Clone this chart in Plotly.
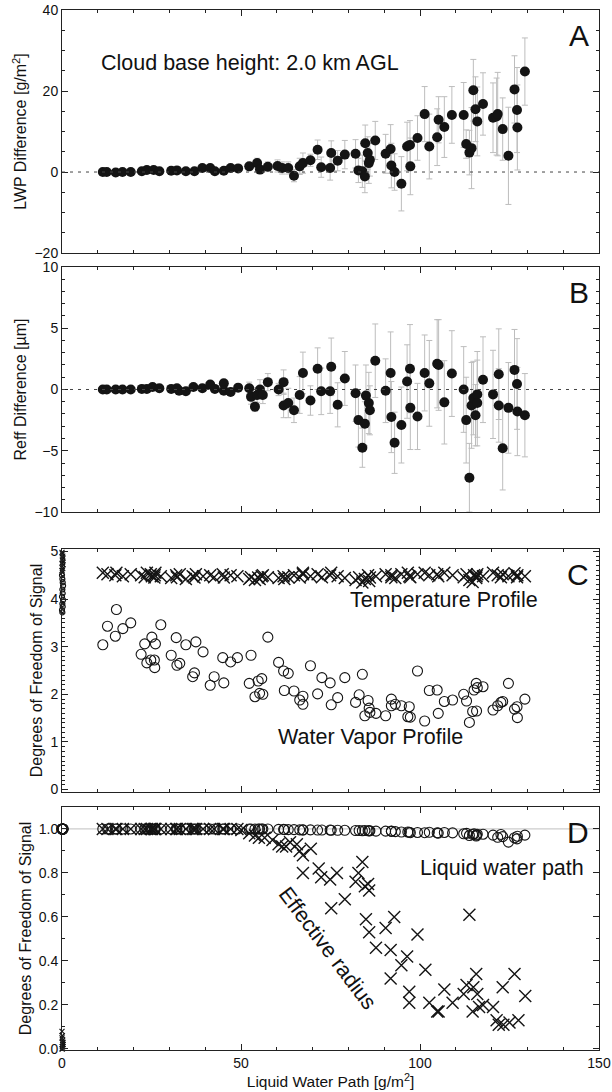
import plotly.graph_objects as go
from plotly.subplots import make_subplots

# ---- Panel A: LWP difference ----
a_lwp = [11.4, 12.5, 15.0, 16.9, 19.2, 22.3, 23.7, 25.6, 27.2, 30.5, 32.1, 34.6, 37.0, 39.2,
         41.4, 42.7, 45.2, 47.1, 49.2, 52.3, 54.5, 55.3, 57.5, 60.2, 61.5, 63.2, 64.8, 66.4,
         67.3, 69.4, 71.4, 72.4, 74.9, 75.2, 77.0, 79.0, 82.0, 82.8, 83.9, 84.6, 84.7, 85.4,
         85.7, 86.0, 87.5, 90.4, 91.8, 92.0, 92.9, 94.8, 96.4, 97.2, 97.3, 99.3, 101.3, 102.6,
         104.8, 105.2, 106.8, 108.9, 112.2, 112.9, 113.8, 114.4, 114.9, 115.5, 116.0, 117.6,
         120.4, 121.4, 121.7, 123.1, 124.7, 126.4, 127.1, 127.2, 129.3]
a_diff = [0.0, 0.0, -0.1, 0.0, 0.0, 0.2, 0.5, 0.5, 0.2, 0.3, 0.4, 0.2, 0.2, 1.0,
          1.0, 0.2, 0.3, 1.0, 0.9, 1.4, 2.2, 0.6, 1.3, 1.5, 1.0, 1.0, -0.9, 1.4,
          2.2, 2.9, 5.5, 1.2, 1.0, 4.7, 2.8, 4.3, 4.5, 0.4, 0.2, -1.1, 7.1, 4.7,
          2.2, 3.0, 7.8, 4.5, 5.7, 1.6, 0.0, -2.9, 6.3, 6.7, 1.4, 8.4, 14.3, 6.3,
          8.6, 12.9, 11.1, 14.1, 14.1, 6.9, 4.8, 5.9, 20.2, 15.5, 12.5, 16.8,
          13.4, 13.7, 14.3, 10.6, 4.0, 20.4, 15.3, 11.0, 24.8]
a_err = [0.2, 0.2, 0.2, 0.2, 0.2, 0.3, 0.3, 0.3, 0.3, 0.3, 0.3, 0.4, 0.4, 0.4,
         0.4, 0.4, 0.5, 0.5, 0.5, 0.8, 1.2, 1.0, 1.2, 1.5, 1.5, 1.5, 1.5, 2.0,
         2.5, 1.5, 2.4, 2.5, 3.0, 3.0, 2.5, 3.5, 3.5, 3.0, 4.0, 4.0, 4.5, 4.0,
         5.0, 4.0, 4.7, 4.8, 6.0, 5.5, 4.5, 6.7, 6.0, 6.0, 7.0, 5.5, 6.8, 8.0,
         7.0, 5.7, 7.5, 7.0, 8.0, 3.5, 5.5, 10.0, 7.6, 8.0, 8.5, 7.7,
         8.6, 9.5, 10.3, 7.7, 12.0, 8.3, 10.5, 10.5, 8.3]

# ---- Panel B: Reff difference ----
b_lwp = [11.4, 12.5, 15.0, 16.9, 19.2, 22.3, 23.7, 25.3, 27.2, 30.5, 32.1, 32.7, 34.6, 36.7,
         39.2, 41.4, 42.7, 45.2, 45.2, 47.1, 49.2, 52.3, 52.8, 53.9, 54.5, 55.3, 56.1, 57.5,
         60.5, 61.9, 61.9, 63.2, 64.8, 66.4, 67.3, 69.4, 71.4, 72.4, 74.9, 75.2, 77.0, 79.0,
         82.0, 82.8, 83.9, 84.6, 84.9, 85.7, 86.0, 87.5, 90.4, 91.8, 92.0, 92.9, 94.8, 96.4,
         97.2, 97.3, 99.3, 101.3, 102.6, 104.8, 105.2, 106.8, 108.9, 112.2, 112.9, 113.8,
         114.4, 114.9, 115.5, 116.0, 116.0, 117.6, 120.4, 122.0, 122.0, 123.1, 124.7, 126.4,
         127.1, 127.2, 129.3]
b_diff = [0.0, 0.0, 0.0, 0.0, 0.0, 0.05, 0.05, 0.2, 0.1, 0.05, 0.1, -0.1, -0.15, 0.2,
          0.1, 0.4, 0.05, 0.5, -0.1, -0.2, 0.15, 0.1, -0.6, -1.4, -0.45, 0.0, -0.45, 0.6,
          0.0, 0.6, -1.3, -1.1, -1.7, -0.45, 1.35, -0.9, 1.7, -0.15, -0.15, 1.85, -1.25, 0.9,
          -0.3, -2.5, -4.75, -2.8, -0.5, -1.1, -1.7, 2.35, -0.1, 1.35, -2.25, -4.35, -2.9, 0.65,
          1.7, -1.5, -2.2, 1.35, 0.5, 2.1, 2.0, -1.05, 1.3, 0.0, -2.5, -7.2,
          -1.3, -0.7, -2.1, -0.4, -1.1, 0.8, -0.4, 1.25, -1.3, -4.8, -1.5, 1.6,
          0.45, -1.8, -2.1]
b_err = [0.1, 0.1, 0.1, 0.1, 0.1, 0.1, 0.1, 0.1, 0.1, 0.1, 0.15, 0.15, 0.15, 0.15,
         0.15, 0.2, 0.2, 0.2, 0.2, 0.2, 0.2, 0.5, 0.6, 0.4, 0.6, 0.8, 0.7, 0.7,
         0.5, 1.0, 1.0, 1.2, 1.0, 1.5, 1.7, 1.2, 1.7, 1.9, 1.8, 2.35, 1.8, 2.2,
         2.3, 2.2, 1.6, 1.8, 2.5, 2.5, 2.0, 3.0, 2.6, 3.35, 2.9, 2.5, 3.1, 3.0,
         3.6, 3.4, 2.7, 3.1, 3.5, 3.6, 3.7, 3.4, 3.5, 3.5, 3.5, 2.8,
         3.5, 3.0, 2.5, 3.5, 3.5, 3.5, 3.6, 3.7, 3.0, 3.4, 3.7, 3.3,
         3.7, 3.6, 3.4]

# ---- Panel C / D: cloudy cases ----
c_lwp = [11.4, 12.7, 14.9, 15.2, 17.0, 19.2, 22.1, 23.1, 23.7, 25.1, 24.8, 25.8, 25.9, 26.1,
         27.6, 30.5, 31.9, 32.1, 32.9, 34.6, 36.5, 37.0, 37.4, 39.4, 41.4, 42.5, 44.9, 45.2,
         47.1, 49.0, 52.3, 52.8, 53.9, 54.8, 55.8, 55.2, 56.1, 57.5, 60.5, 61.9, 62.1, 63.2,
         64.8, 66.4, 67.3, 67.3, 69.4, 71.4, 72.6, 74.9, 75.2, 77.0, 79.0, 82.0, 83.0, 83.9,
         84.6, 85.5, 85.8, 86.0, 87.7, 90.4, 92.0, 92.0, 93.1, 94.8, 97.0, 96.6, 97.3, 99.3,
         101.3, 102.6, 104.8, 105.1, 106.8, 109.1, 112.2, 113.0, 113.8, 114.7, 115.8, 115.1,
         115.7, 116.0, 117.6, 120.4, 121.7, 122.6, 123.1, 124.7, 126.4, 127.1, 127.2, 129.3]
c_wv = [3.04, 3.43, 3.22, 3.78, 3.38, 3.50, 2.84, 3.06, 2.66, 3.20, 2.72, 2.72, 2.56, 3.06,
        3.46, 2.82, 3.19, 2.61, 2.65, 3.04, 2.37, 2.45, 3.10, 2.89, 2.19, 2.37, 2.77, 2.24,
        2.68, 2.77, 2.23, 2.82, 1.95, 2.28, 2.33, 2.02, 2.00, 3.20, 2.67, 2.49, 2.08, 2.44,
        2.07, 1.88, 1.96, 1.79, 2.60, 2.01, 2.35, 2.24, 1.78, 1.93, 2.35, 1.83, 1.99, 2.42,
        1.55, 1.87, 1.71, 1.62, 1.60, 1.55, 1.90, 1.76, 1.79, 1.76, 1.74, 1.53, 1.52, 2.49,
        1.44, 2.08, 2.09, 1.60, 1.85, 1.88, 2.00, 1.86, 1.41, 1.64, 1.65, 2.09,
        2.23, 2.14, 2.16, 1.67, 1.76, 1.83, 1.85, 2.23, 1.69, 1.74, 1.51, 1.90]
c_temp = [4.55, 4.52, 4.50, 4.55, 4.48, 4.52, 4.50, 4.46, 4.55, 4.48, 4.52, 4.45, 4.50, 4.55,
          4.48, 4.44, 4.50, 4.46, 4.52, 4.42, 4.48, 4.45, 4.52, 4.48, 4.50, 4.46, 4.52, 4.45,
          4.50, 4.48, 4.42, 4.46, 4.40, 4.45, 4.48, 4.42, 4.50, 4.46, 4.44, 4.48, 4.42, 4.46,
          4.50, 4.45, 4.52, 4.55, 4.48, 4.52, 4.46, 4.50, 4.55, 4.48, 4.44, 4.40, 4.46, 4.35,
          4.42, 4.50, 4.38, 4.45, 4.48, 4.52, 4.46, 4.50, 4.44, 4.52, 4.48, 4.55, 4.46, 4.52,
          4.55, 4.50, 4.52, 4.48, 4.55, 4.50, 4.46, 4.52, 4.40, 4.36, 4.48, 4.50,
          4.44, 4.52, 4.48, 4.55, 4.50, 4.46, 4.52, 4.48, 4.54, 4.46, 4.50, 4.48]
d_lwp_dfs = [1.0, 1.0, 1.0, 1.0, 1.0, 1.0, 1.0, 1.0, 1.0, 1.0, 1.0, 1.0, 1.0, 1.0,
             1.0, 1.0, 1.0, 1.0, 1.0, 1.0, 1.0, 1.0, 1.0, 1.0, 1.0, 1.0, 1.0, 1.0,
             1.0, 1.0, 1.0, 1.0, 1.0, 1.0, 1.0, 1.0, 1.0, 1.0, 0.998, 0.998, 0.997, 0.997,
             0.997, 0.996, 0.996, 0.995, 0.996, 0.995, 0.995, 0.995, 0.994, 0.994, 0.994, 0.993, 0.993, 0.992,
             0.993, 0.992, 0.991, 0.992, 0.99, 0.99, 0.989, 0.99, 0.988, 0.986, 0.985, 0.986, 0.983, 0.984,
             0.983, 0.985, 0.982, 0.981, 0.984, 0.982, 0.978, 0.98, 0.97, 0.975, 0.972, 0.978,
             0.968, 0.976, 0.976, 0.972, 0.962, 0.975, 0.965, 0.94, 0.96, 0.955, 0.967, 0.972]

# Reff DFS in panel D
d_reff_lwp = [11.4, 12.7, 14.9, 15.2, 17.0, 19.2, 22.1, 23.1, 23.7, 25.1, 24.8, 25.8, 25.9, 26.1,
              27.6, 30.5, 31.9, 32.1, 32.9, 34.6, 36.5, 37.0, 37.4, 39.4, 41.4, 42.5, 44.9, 45.2,
              47.1, 49.0, 50.1, 52.3, 53.9, 55.0, 56.6, 58.8, 60.5, 61.5, 62.6, 63.7, 65.6, 66.4,
              67.3, 69.5, 67.3, 71.7, 72.4, 74.9, 75.2, 76.8, 79.0, 82.0, 82.8, 83.9, 84.6, 85.5,
              85.8, 84.9, 85.8, 87.7, 90.4, 92.8, 91.8, 91.8, 94.8, 96.4, 97.0, 97.0, 99.3, 101.5,
              102.6, 104.8, 105.2, 106.8, 109.1, 112.2, 113.0, 113.8, 114.7, 114.9, 115.7, 116.0,
              116.5, 117.6, 120.4, 121.4, 122.0, 123.1, 123.3, 125.0, 126.4, 127.5, 129.4]
d_reff_dfs = [1.0, 1.0, 1.0, 1.0, 1.0, 1.0, 1.0, 1.0, 1.0, 1.0, 1.0, 1.0, 1.0, 1.0,
              1.0, 1.0, 1.0, 1.0, 1.0, 1.0, 1.0, 1.0, 1.0, 1.0, 1.0, 1.0, 1.0, 1.0,
              1.0, 1.0, 0.995, 0.98, 0.97, 0.96, 0.96, 0.95, 0.93, 0.92, 0.92, 0.94, 0.93, 0.90,
              0.88, 0.91, 0.80, 0.82, 0.78, 0.77, 0.64, 0.80, 0.68, 0.76, 0.80, 0.85, 0.74, 0.75,
              0.72, 0.59, 0.53, 0.46, 0.55, 0.60, 0.45, 0.32, 0.38, 0.42, 0.26, 0.21, 0.52, 0.36,
              0.21, 0.17, 0.17, 0.27, 0.21, 0.25, 0.29, 0.61, 0.17, 0.28, 0.34, 0.25,
              0.19, 0.20, 0.19, 0.13, 0.11, 0.28, 0.11, 0.12, 0.34, 0.13, 0.24]

# ---- clear-sky cases (LWP = 0) ----
clr_lwp = [0.0, 0.1, 0.2, 0.3, 0.1, 0.2, 0.0, 0.3, 0.1, 0.2, 0.0, 0.1]
clr_temp = [4.98, 4.95, 4.9, 4.86, 4.82, 4.78, 4.75, 4.72, 4.68, 4.64, 4.6, 4.56]
clr_wv = [4.5, 4.42, 4.35, 4.28, 4.2, 4.12, 4.05, 3.98, 3.9, 3.84, 3.77, 3.72]
clr_lwp_dfs = [1.0, 1.0, 1.0, 1.0, 1.0, 1.0, 1.0, 1.0, 1.0, 1.0, 1.0, 1.0]
clr_reff_dfs = [0.0, 0.01, 0.02, 0.03, 0.0, 0.04, 0.05, 0.02, 0.06, 0.01, 0.08, 0.03]

BLACK = "#141414"
GREY = "#bdbdbd"
FONT = "Liberation Sans, Arial, sans-serif"

fig = make_subplots(rows=4, cols=1)

err_style = dict(type="data", color=GREY, thickness=1, width=3)

fig.add_trace(go.Scatter(x=a_lwp, y=a_diff, mode="markers",
                         marker=dict(symbol="circle", size=10, color=BLACK),
                         error_y=dict(array=a_err, **err_style)), row=1, col=1)
fig.add_trace(go.Scatter(x=b_lwp, y=b_diff, mode="markers",
                         marker=dict(symbol="circle", size=10, color=BLACK),
                         error_y=dict(array=b_err, **err_style)), row=2, col=1)

cross = dict(symbol="x-thin-open", size=12, line=dict(width=1.4, color=BLACK), color=BLACK)
ring = dict(symbol="circle-open", size=10, line=dict(width=1.1, color=BLACK), color=BLACK)
small_cross = dict(symbol="x-thin-open", size=5, line=dict(width=1.2, color=BLACK), color=BLACK)
small_ring = dict(symbol="circle-open", size=5, line=dict(width=1.2, color=BLACK), color=BLACK)

fig.add_trace(go.Scatter(x=c_lwp, y=c_temp, mode="markers", marker=cross), row=3, col=1)
fig.add_trace(go.Scatter(x=c_lwp, y=c_wv, mode="markers", marker=ring), row=3, col=1)
fig.add_trace(go.Scatter(x=clr_lwp, y=clr_temp, mode="markers", marker=small_cross,
                         cliponaxis=False), row=3, col=1)
fig.add_trace(go.Scatter(x=clr_lwp, y=clr_wv, mode="markers", marker=small_ring,
                         cliponaxis=False), row=3, col=1)

fig.add_trace(go.Scatter(x=c_lwp, y=d_lwp_dfs, mode="markers", marker=ring), row=4, col=1)
fig.add_trace(go.Scatter(x=d_reff_lwp, y=d_reff_dfs, mode="markers", marker=cross), row=4, col=1)
fig.add_trace(go.Scatter(x=clr_lwp, y=clr_lwp_dfs, mode="markers", marker=ring,
                         cliponaxis=False), row=4, col=1)
fig.add_trace(go.Scatter(x=clr_lwp, y=clr_reff_dfs, mode="markers", marker=small_cross,
                         cliponaxis=False), row=4, col=1)

# reference lines
for r in (1, 2):
    fig.add_hline(y=0, line=dict(color="#444", width=1, dash="3px,5px"), row=r, col=1)
fig.add_hline(y=1.0, line=dict(color="#cccccc", width=1.2), row=4, col=1, layer="below")

domains = [(0.7663, 1.0), (0.5173, 0.7529), (0.2481, 0.4817), (0.0, 0.2337)]
yranges = [(-20, 40), (-10, 10), (-0.05, 5.05), (-0.005, 1.1)]
ydticks = [20, 5, 1, 0.2]
yminor = [5, 1, 0.1, 0.1]
ytitles = ["LWP Difference [g/m<sup>2</sup>]", "Reff Difference [\u00b5m]",
           "Degrees of Freedom of Signal", "Degrees of Freedom of Signal"]

axis_common = dict(showline=True, linecolor="#222", linewidth=1, mirror="ticks",
                   ticks="inside", ticklen=6, tickcolor="#222", showgrid=False,
                   zeroline=False, automargin=False, ticklabeloverflow="allow",
                   tickfont=dict(size=14, color="#111", family=FONT))

for i in range(4):
    r = i + 1
    fig.update_xaxes(range=[0, 150], dtick=50, tick0=0, domain=[0, 1],
                     minor=dict(dtick=10, ticks="inside", ticklen=3, tickcolor="#222"),
                     showticklabels=(r == 4), row=r, col=1, **axis_common)
    fig.update_yaxes(range=list(yranges[i]), dtick=ydticks[i], tick0=0, domain=list(domains[i]),
                     minor=dict(dtick=yminor[i], ticks="inside", ticklen=3, tickcolor="#222"),
                     title=dict(text=ytitles[i], font=dict(size=16, color="#111", family=FONT),
                                standoff=3),
                     row=r, col=1, **axis_common)

fig.update_yaxes(tickformat=".1f", row=4, col=1)
fig.update_xaxes(title=dict(text="Liquid Water Path [g/m<sup>2</sup>]",
                            font=dict(size=15.5, color="#111", family=FONT), standoff=3),
                 row=4, col=1)

ann_font = dict(size=21.5, color="#111", family=FONT)
letter_font = dict(size=30, color="#111", family=FONT)
for r, letter in zip((1, 2, 3, 4), "ABCD"):
    xr = "x" if r == 1 else f"x{r}"
    yr = "y" if r == 1 else f"y{r}"
    fig.add_annotation(text=letter, xref=f"{xr} domain", yref=f"{yr} domain",
                       x=0.985, y=0.97, xanchor="right", yanchor="top",
                       showarrow=False, font=letter_font)

fig.add_annotation(text="Cloud base height: 2.0 km AGL", x=52.5, y=27.0, xref="x", yref="y",
                   showarrow=False, font=ann_font)
fig.add_annotation(text="Temperature Profile", x=106.7, y=3.97, xref="x3", yref="y3",
                   showarrow=False, font=ann_font)
fig.add_annotation(text="Water Vapor Profile", x=86.3, y=1.11, xref="x3", yref="y3",
                   showarrow=False, font=ann_font)
fig.add_annotation(text="Liquid water path", x=122.8, y=0.824, xref="x4", yref="y4",
                   showarrow=False, font=ann_font)
fig.add_annotation(text="Effective radius", x=74.3, y=0.455, xref="x4", yref="y4",
                   textangle=53, showarrow=False, font=ann_font)

fig.update_layout(
    width=612,
    height=1092,
    margin=dict(l=62, r=13, t=10, b=42),
    plot_bgcolor="white",
    paper_bgcolor="white",
    showlegend=False,
    font=dict(family=FONT, color="#111"),
)

# drop the default 8px page margin so the figure sits at the window origin
fig.write_html("out.html", config={"displayModeBar": False},
               post_script="document.body.style.margin='0';")
